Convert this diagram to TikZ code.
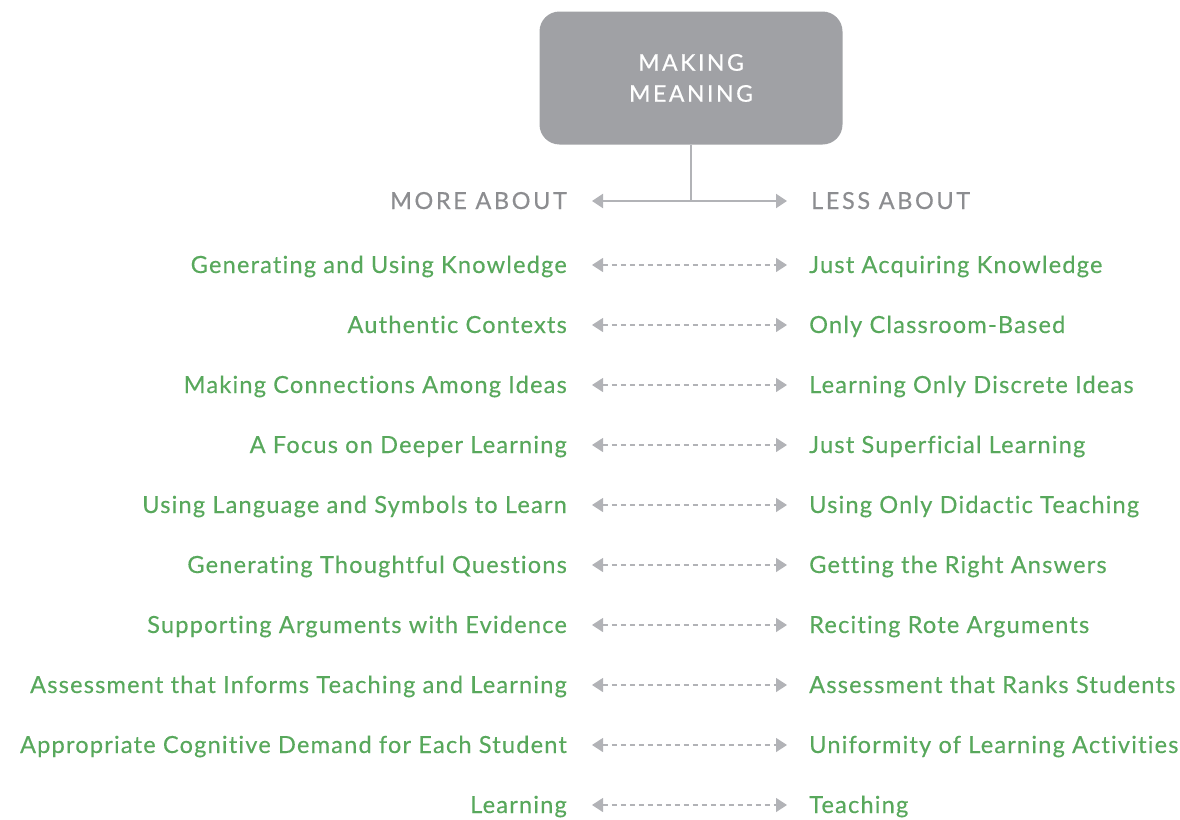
\documentclass[tikz,border=0pt]{standalone}
\usepackage{fontspec}
\setmainfont{Lato}[LetterSpace=5,FakeBold=0.3,Ligatures=NoCommon]
\newfontfamily\capsfont[LetterSpace=11,FakeBold=0.5,Ligatures=NoCommon]{Lato}
\usetikzlibrary{arrows.meta,positioning}
\definecolor{leafgreen}{RGB}{88,168,92}
\definecolor{boxgray}{RGB}{160,161,165}
\definecolor{headgray}{RGB}{140,141,144}
\definecolor{arrowgray}{RGB}{178,179,183}

\tikzset{
  more/.style={anchor=east, inner sep=0pt, text height=16pt, text depth=0pt, text=leafgreen, font=\fontsize{23.6}{28}\selectfont},
  less/.style={anchor=west, inner sep=0pt, text height=16pt, text depth=0pt, text=leafgreen, font=\fontsize{23.6}{28}\selectfont},
  pair/.style={dash pattern=on 5pt off 4pt, arrowgray, line width=1.2pt, {Triangle[length=11pt,width=14pt]}-{Triangle[length=11pt,width=14pt]}, shorten <=25pt, shorten >=22pt},
  headline/.style={arrowgray, line width=2pt},
}

\begin{document}
\begin{tikzpicture}[x=1pt,y=-1pt]
            \useasboundingbox (0,0) rectangle (1180,819);

            \node[fill=boxgray, rounded corners=20pt, minimum width=303pt, minimum height=133pt, text=white, align=center, font=\capsfont\fontsize{23}{31}\selectfont] (box) at (691,78) {MAKING\\MEANING};

            \node[more, text=headgray, font=\capsfont\fontsize{23.5}{28}\selectfont] (moreabout) at (567,201) {MORE ABOUT};
            \node[less, text=headgray, font=\capsfont\fontsize{23.5}{28}\selectfont] (lessabout) at (811,201) {LESS ABOUT};
            \coordinate (jn) at (box.south |- moreabout.east);
            \draw[headline] (box.south) -- (jn);
            \draw[headline, -{Triangle[length=11pt,width=14pt]}, shorten >=25pt] (jn) -- (moreabout.east);
            \draw[headline, -{Triangle[length=11pt,width=14pt]}, shorten >=24pt] (jn) -- (lessabout.west);

            \node[more] (m1) at (567,265) {Generating and Using Knowledge};
            \node[less] (l1) at (809,265) {Just Acquiring Knowledge};
            \node[more] (m2) at (567,325) {Authentic Contexts};
            \node[less] (l2) at (809,325) {Only Classroom-Based};
            \node[more] (m3) at (567,385) {Making Connections Among Ideas};
            \node[less] (l3) at (809,385) {Learning Only Discrete Ideas};
            \node[more] (m4) at (567,445) {A Focus on Deeper Learning};
            \node[less] (l4) at (809,445) {Just Superficial Learning};
            \node[more] (m5) at (567,505) {Using Language and Symbols to Learn};
            \node[less] (l5) at (809,505) {Using Only Didactic Teaching};
            \node[more] (m6) at (567,565) {Generating Thoughtful Questions};
            \node[less] (l6) at (809,565) {Getting the Right Answers};
            \node[more] (m7) at (567,625) {Supporting Arguments with Evidence};
            \node[less] (l7) at (809,625) {Reciting Rote Arguments};
            \node[more] (m8) at (567,685) {Assessment that Informs Teaching and Learning};
            \node[less] (l8) at (809,685) {Assessment that Ranks Students};
            \node[more] (m9) at (567,745) {Appropriate Cognitive Demand for Each Student};
            \node[less] (l9) at (809,745) {Uniformity of Learning Activities};
            \node[more] (m10) at (567,805) {Learning};
            \node[less] (l10) at (809,805) {Teaching};

            \draw[pair] (m1.east) -- (l1.west);
            \draw[pair] (m2.east) -- (l2.west);
            \draw[pair] (m3.east) -- (l3.west);
            \draw[pair] (m4.east) -- (l4.west);
            \draw[pair] (m5.east) -- (l5.west);
            \draw[pair] (m6.east) -- (l6.west);
            \draw[pair] (m7.east) -- (l7.west);
            \draw[pair] (m8.east) -- (l8.west);
            \draw[pair] (m9.east) -- (l9.west);
            \draw[pair] (m10.east) -- (l10.west);
        \end{tikzpicture}
\end{document}
